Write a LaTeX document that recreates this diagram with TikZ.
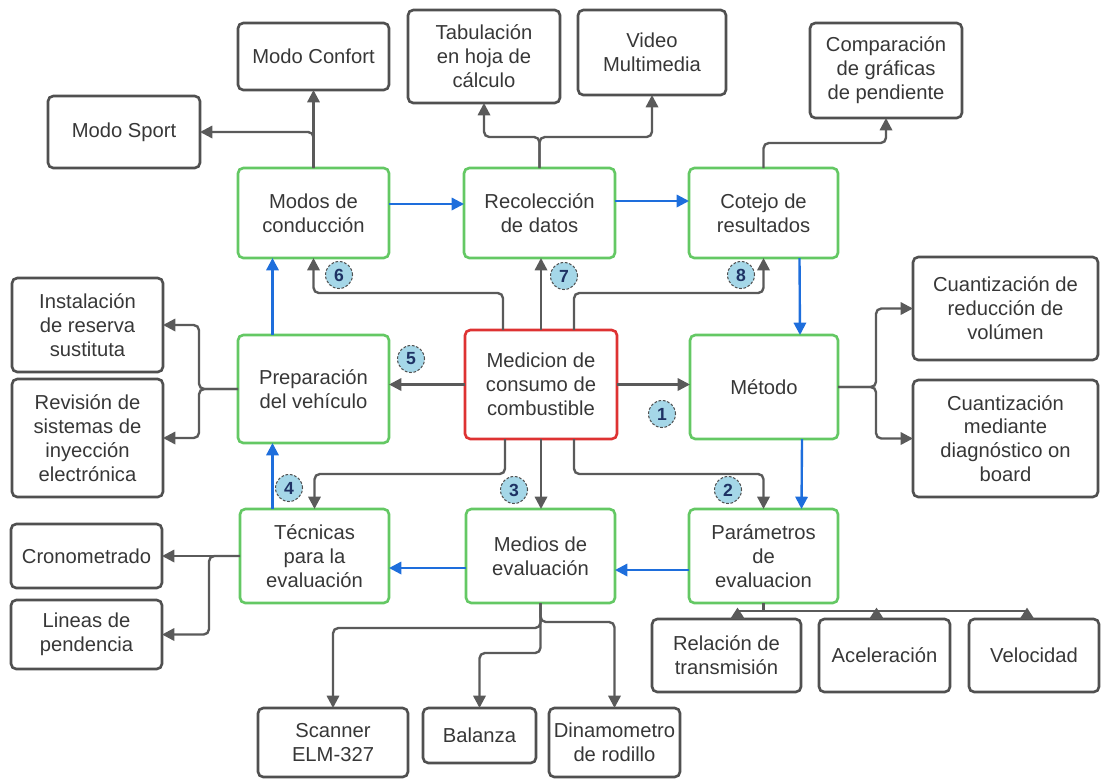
\documentclass[tikz,border=0pt]{standalone}
\usepackage{fontspec}
\setmainfont{Liberation Sans}
\usetikzlibrary{arrows.meta,calc}
\definecolor{gbord}{RGB}{80,80,80}
\definecolor{boxgreen}{RGB}{100,200,100}
\definecolor{boxred}{RGB}{222,50,50}
\definecolor{arrblue}{RGB}{30,110,220}
\definecolor{lgray}{RGB}{90,90,90}
\definecolor{badgefill}{RGB}{165,215,232}
\definecolor{badgetext}{RGB}{30,50,100}
\definecolor{txt}{RGB}{55,55,55}
\tikzset{
  base/.style={draw, rounded corners=3pt, line width=1.5pt, align=center, inner sep=0pt, outer sep=0pt, font=\fontsize{11.5}{13.6}\selectfont, text=txt},
  gbox/.style={base, draw=gbord},
  grbox/.style={base, draw=boxgreen},
  rdbox/.style={base, draw=boxred},
  garr/.style={draw=lgray, line width=1.35pt, -{Triangle[length=7pt,width=7pt]}, rounded corners=3pt},
  barr/.style={draw=arrblue, line width=1.35pt, -{Triangle[length=7pt,width=7pt]}},
  rarr/.style={draw=lgray, line width=1.35pt, -{Triangle[reversed,length=6.5pt,width=8pt]}},
  badge/.style={circle, fill=badgefill, draw=gbord, dashed, dash pattern=on 1.5pt off 1pt, line width=0.6pt, minimum size=0.54cm, inner sep=0pt, font=\fontsize{10}{12}\selectfont\bfseries, text=badgetext},
}
\newcommand{\bx}[7]{\node[#6, minimum width={(#4-#2)*0.02cm}, minimum height={(#5-#3)*0.02cm}] (#1) at ({(#2+#4)/2},{(#3+#5)/2}) {#7};}
\begin{document}
\begin{tikzpicture}[x=0.02cm, y=-0.02cm]
\useasboundingbox (0,0) rectangle (1108,778);
% top row
\bx{conf}{238}{23}{389}{90}{gbox}{Modo Confort}
\bx{sport}{48}{96}{200}{168}{gbox}{Modo Sport}
\bx{tab}{408}{10}{560}{103}{gbox}{Tabulación\\en hoja de\\cálculo}
\bx{video}{578}{10}{726}{95}{gbox}{Video\\Multimedia}
\bx{comp}{810}{23}{962}{118}{gbox}{Comparación\\de gráficas\\de pendiente}
% green row 1
\bx{modos}{238}{168}{389}{258}{grbox}{Modos de\\conducción}
\bx{recol}{464}{168}{615}{258}{grbox}{Recolección\\de datos}
\bx{cotejo}{689}{168}{838}{258}{grbox}{Cotejo de\\resultados}
% middle
\bx{inst}{12}{278}{163}{372}{gbox}{Instalación\\de reserva\\sustituta}
\bx{rev}{12}{379}{163}{497}{gbox}{Revisión de\\sistemas de\\inyección\\electrónica}
\bx{prep}{238}{335}{389}{443}{grbox}{Preparación\\del vehículo}
\bx{med}{465}{330}{617}{439}{rdbox}{Medicion de\\consumo de\\combustible}
\bx{metodo}{690}{335}{838}{439}{grbox}{Método}
\bx{cred}{913}{257}{1098}{360}{gbox}{Cuantización de\\reducción de\\volúmen}
\bx{cmed}{913}{380}{1098}{497}{gbox}{Cuantización\\mediante\\diagnóstico on\\board}
% green row 3
\bx{tec}{240}{509}{389}{603}{grbox}{Técnicas\\para la\\evaluación}
\bx{medios}{466}{509}{615}{603}{grbox}{Medios de\\evaluación}
\bx{param}{689}{509}{838}{603}{grbox}{Parámetros\\de\\evaluacion}
% bottom
\bx{crono}{11}{524}{162}{588}{gbox}{Cronometrado}
\bx{lineas}{11}{600}{162}{669}{gbox}{Lineas de\\pendencia}
\bx{rel}{652}{619}{801}{692}{gbox}{Relación de\\transmisión}
\bx{acel}{819}{619}{950}{692}{gbox}{Aceleración}
\bx{vel}{969}{619}{1099}{692}{gbox}{Velocidad}
\bx{scan}{258}{708}{408}{777}{gbox}{Scanner\\ELM-327}
\bx{bal}{423}{708}{536}{763}{gbox}{Balanza}
\bx{dina}{549}{708}{680}{777}{gbox}{Dinamometro\\de rodillo}
% connectors top
\draw[garr] (modos.north) -- (conf.south);
\draw[garr] (modos.north) |- (sport.east);
\draw[garr] (recol.north) -- ++(0,-31) -| (tab.south);
\draw[garr] (recol.north) -- ++(0,-31) -| (video.south);
\draw[garr] (cotejo.north) -- ++(0,-25) -| (comp.south);
% blue flow
\draw[barr] ($(modos.east)+(0,-9)$) -- ($(recol.west)+(0,-9)$);
\draw[barr] ($(recol.east)+(0,-12)$) -- ($(cotejo.west)+(0,-12)$);
\draw[barr] ($(cotejo.south)+(36,0)$) -- ($(metodo.north)+(36,0)$);
\draw[barr] ($(metodo.south)+(38,0)$) -- ($(param.north)+(38,0)$);
\draw[barr] ($(param.west)+(0,14)$) -- ($(medios.east)+(0,14)$);
\draw[barr] ($(medios.west)+(0,12)$) -- ($(tec.east)+(0,12)$);
\draw[barr] ($(tec.north)+(-42,0)$) coordinate (tb) -- (tb |- prep.south);
\draw[barr] ($(prep.north)+(-41,0)$) coordinate (pb) -- (pb |- modos.south);
% from medicion
\draw[garr] ($(med.north)+(-38,0)$) -- ++(0,-37) -| (modos.south);
\draw[garr] (med.north) -- (med.north |- recol.south);
\draw[garr] ($(med.north)+(33,0)$) -- ++(0,-37) -| (cotejo.south);
\draw[garr] (med.west) -- (med.west -| prep.east);
\draw[garr] (med.east) -- (med.east -| metodo.west);
\draw[garr] ($(med.south)+(-36,0)$) -- ++(0,35) -| (tec.north);
\draw[garr] (med.south) -- (med.south |- medios.north);
\draw[garr] ($(med.south)+(33,0)$) -- ++(0,35) -| (param.north);
% side branches
\draw[garr] (prep.west) -- ++(-39,0) |- (inst.east);
\draw[garr] (prep.west) -- ++(-39,0) |- (rev.east);
\draw[garr] (metodo.east) -- ++(38,0) |- (cred.west);
\draw[garr] (metodo.east) -- ++(38,0) |- (cmed.west);
\draw[garr] (tec.west) -- (tec.west -| crono.east);
\draw[garr] (tec.west) -- ++(-31,0) |- (lineas.east);
% medios bottom
\draw[garr] (medios.south) -- ++(0,25) -| (scan.north);
\draw[garr] (medios.south) -- ++(0,50) -| (bal.north);
\draw[garr] (medios.south) -- ++(0,19) -| (dina.north);
% parametros bottom
\draw[rarr] (param.south) -- ++(0,8) -| ($(rel.north)+(11,0)$);
\draw[rarr] (param.south) -- ++(0,8) -| ($(acel.north)+(-8,0)$);
\draw[rarr] (param.south) -- ++(0,8) -| ($(vel.north)+(-7,0)$);
% badges
\node[badge] (b1) at (662,414) {1};
\node[badge] (b2) at (728,490) {2};
\node[badge] (b3) at (514,490) {3};
\node[badge] (b4) at (289,488) {4};
\node[badge] (b5) at (411,359) {5};
\node[badge] (b6) at (339,275) {6};
\node[badge] (b7) at (564,276) {7};
\node[badge] (b8) at (741,275) {8};
\end{tikzpicture}
\end{document}
